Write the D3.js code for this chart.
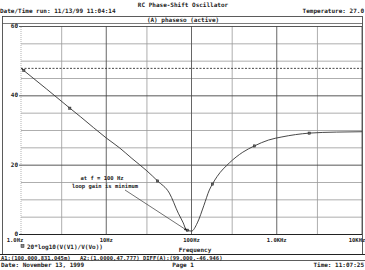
<!DOCTYPE html>
<html>
<head>
<meta charset="utf-8" />
<title>RC Phase-Shift Oscillator</title>
<style>
    body { margin: 0; background: #fff; }
    svg text { font-family: "DejaVu Sans Mono", "Liberation Mono", monospace; font-weight: bold; fill: #222; }
</style>
</head>
<body>
<svg></svg>
<script src="https://d3js.org/d3.v7.min.js"></script>
<script>
    // trace: 20*log10(V(V1)/V(Vo)) vs frequency
    const freq = [1, 2, 3.74, 5, 10, 14.4, 20, 30, 40, 55, 70, 80, 87, 100, 117, 140, 162, 176, 200, 278, 400, 546, 800, 1150, 2400, 5000, 10000];
    const gain = [47.8, 41.8, 36.3, 33.8, 27.7, 24.8, 21.8, 18.2, 15.3, 11.8, 6.0, 3.2, 1.2, 0.83, 3.2, 8.3, 12.7, 14.4, 16.6, 20.5, 23.6, 25.4, 27.1, 28.0, 29.1, 29.4, 29.5];

    // symbol markers on the trace
    const markerFreq = [1.08, 3.74, 40, 89.6, 176, 546, 2400];
    const markerGain = [47.2, 36.3, 15.3, 1.1, 14.4, 25.4, 29.1];

    const xTicks = [1, 10, 100, 1000, 10000];
    const xTickLabels = ["1.0Hz", "10Hz", "100Hz", "1.0KHz", "10KHz"];
    const xMinor = [3, 30, 300, 3000];
    const yTicks = [0, 20, 40, 60];
    const yMinor = [5, 10, 15, 25, 30, 35, 45, 50, 55];
    const cursorA2 = 47.777;

    let width = 365, height = 270;
    let svg = d3.select("svg").attr("width", width).attr("height", height);

    let x = d3.scaleLog().domain([1, 10000]).range([21, 362]);
    let y = d3.scaleLinear().domain([0, 60]).range([234, 26]);

    // header
    svg.append("text").attr("x", 183).attr("y", 7).attr("text-anchor", "middle")
        .style("font-size", "6px").text("RC Phase-Shift Oscillator");
    svg.append("text").attr("x", 0).attr("y", 13)
        .style("font-size", "6px").text("Date/Time run: 11/13/99 11:04:14");
    svg.append("text").attr("x", 364).attr("y", 13).attr("text-anchor", "end")
        .style("font-size", "6px").text("Temperature: 27.0");

    // outer frame and title strip
    svg.append("rect").attr("x", 2.5).attr("y", 16.5).attr("width", 360).attr("height", 238)
        .attr("fill", "none").attr("stroke", "#333").attr("stroke-width", 0.8);
    svg.append("line").attr("x1", 2.5).attr("x2", 362.5).attr("y1", 23.5).attr("y2", 23.5)
        .attr("stroke", "#444").attr("stroke-width", 0.7);
    svg.append("text").attr("x", 183).attr("y", 22).attr("text-anchor", "middle")
        .style("font-size", "6px").text("(A) phaseso (active)");

    // grid
    let grid = svg.append("g");
    grid.selectAll(".ymin").data(yMinor).enter().append("line")
        .attr("x1", x(1)).attr("x2", x(10000))
        .attr("y1", d => y(d) + 0.5).attr("y2", d => y(d) + 0.5)
        .attr("stroke", "#999").attr("stroke-width", 0.8);
    grid.selectAll(".xmin").data(xMinor).enter().append("line")
        .attr("x1", d => x(d)).attr("x2", d => x(d))
        .attr("y1", y(0)).attr("y2", y(60))
        .attr("stroke", "#999").attr("stroke-width", 0.8);
    grid.selectAll(".xmaj").data(xTicks).enter().append("line")
        .attr("x1", d => x(d)).attr("x2", d => x(d))
        .attr("y1", y(0)).attr("y2", y(60))
        .attr("stroke", (d, i) => i == 0 ? "#aaa" : "#555")
        .attr("stroke-dasharray", (d, i) => i == 0 ? "1,1" : null)
        .attr("stroke-width", 0.9);
    grid.selectAll(".ymaj").data(yTicks).enter().append("line")
        .attr("x1", x(1) - 2).attr("x2", x(10000))
        .attr("y1", d => y(d) + 0.5).attr("y2", d => y(d) + 0.5)
        .attr("stroke", (d, i) => i == 0 ? "#222" : "#444")
        .attr("stroke-width", (d, i) => i == 0 ? 1.1 : 0.9);

    // cursor line A2
    svg.append("line").attr("x1", x(1)).attr("x2", x(10000))
        .attr("y1", y(cursorA2)).attr("y2", y(cursorA2))
        .attr("stroke", "#333").attr("stroke-width", 0.9).attr("stroke-dasharray", "2,1.5");

    // tick labels
    svg.selectAll(".ylab").data(yTicks).enter().append("text")
        .attr("x", 18).attr("y", d => y(d) + 2).attr("text-anchor", "end")
        .style("font-size", "6px").text(d => d);
    svg.selectAll(".xlab").data(xTicks).enter().append("text")
        .attr("x", (d, i) => i == 0 ? x(d) - 6 : (i == 4 ? x(d) - 5 : x(d)))
        .attr("y", 242).attr("text-anchor", "middle")
        .style("font-size", "5.5px").text((d, i) => xTickLabels[i]);

    // trace
    let line = d3.line().x(d => x(d[0])).y(d => y(d[1])).curve(d3.curveMonotoneX);
    svg.append("path").datum(d3.zip(freq, gain))
        .attr("d", line).attr("fill", "none")
        .attr("stroke", "#333").attr("stroke-width", 0.9);

    svg.selectAll(".mk").data(d3.zip(markerFreq, markerGain)).enter().append("rect")
        .attr("x", d => x(d[0]) - 1.1).attr("y", d => y(d[1]) - 1.1)
        .attr("width", 2.2).attr("height", 2.2)
        .attr("fill", "#666").attr("stroke", "#222").attr("stroke-width", 0.5);

    // annotation
    svg.append("text").attr("x", 102).attr("y", 180).attr("text-anchor", "middle")
        .style("font-size", "5.5px").text("at f = 100 Hz");
    svg.append("text").attr("x", 105).attr("y", 188).attr("text-anchor", "middle")
        .style("font-size", "5.5px").text("loop gain is minimum");
    svg.append("defs").append("marker").attr("id", "arrow")
        .attr("viewBox", "0 0 10 10").attr("refX", 9).attr("refY", 5)
        .attr("markerWidth", 5).attr("markerHeight", 5).attr("orient", "auto")
        .append("path").attr("d", "M0,1 L10,5 L0,9 z").attr("fill", "#222");
    svg.append("line").attr("x1", 125).attr("y1", 190)
        .attr("x2", x(89)).attr("y2", y(1))
        .attr("stroke", "#333").attr("stroke-width", 0.7)
        .attr("marker-end", "url(#arrow)");

    // legend and x title
    svg.append("rect").attr("x", 21).attr("y", 244.5).attr("width", 3).attr("height", 3)
        .attr("fill", "#888").attr("stroke", "#222").attr("stroke-width", 0.5);
    svg.append("text").attr("x", 27).attr("y", 248.5)
        .style("font-size", "6px").text("20*log10(V(V1)/V(Vo))");
    svg.append("text").attr("x", 195).attr("y", 252).attr("text-anchor", "middle")
        .style("font-size", "6px").text("Frequency");

    // status bar
    svg.append("line").attr("x1", 0).attr("x2", 365).attr("y1", 254.5).attr("y2", 254.5)
        .attr("stroke", "#222").attr("stroke-width", 1);
    svg.append("line").attr("x1", 0).attr("x2", 365).attr("y1", 260.5).attr("y2", 260.5)
        .attr("stroke", "#333").attr("stroke-width", 0.8);
    svg.append("text").attr("x", 1).attr("y", 259.5).style("font-size", "5.5px")
        .text("A1:(100.000,831.045m)");
    svg.append("text").attr("x", 80).attr("y", 259.5).style("font-size", "5.5px")
        .text("A2:(1.0000,47.777)");
    svg.append("text").attr("x", 143).attr("y", 259.5).style("font-size", "5.5px")
        .text("DIFF(A):(99.000,-46.946)");
    svg.append("text").attr("x", 1).attr("y", 267).style("font-size", "6px")
        .text("Date: November 13, 1999");
    svg.append("text").attr("x", 183).attr("y", 267).attr("text-anchor", "middle")
        .style("font-size", "6px").text("Page 1");
    svg.append("text").attr("x", 364).attr("y", 267).attr("text-anchor", "end")
        .style("font-size", "6px").text("Time: 11:07:25");
</script>
</body>
</html>
